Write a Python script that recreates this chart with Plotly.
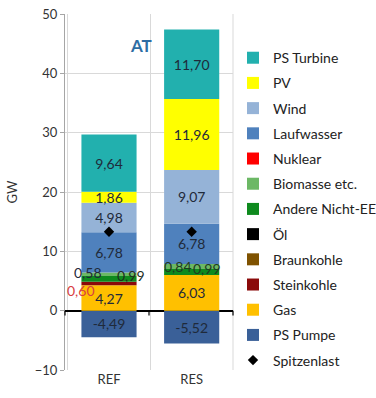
import plotly.graph_objects as go

categories = ["REF", "RES"]

# stack order bottom-up (positive), negative PS Pumpe separate
ps_pumpe = [-4.49, -5.52]
gas = [4.27, 6.03]
steinkohle = [0.60, 0.0]
braunkohle = [0.0, 0.0]
oel = [0.0, 0.0]
andere = [0.99, 0.99]
biomasse = [0.58, 0.84]
nuklear = [0.0, 0.0]
laufwasser = [6.78, 6.78]
wind = [4.98, 9.07]
pv = [1.86, 11.96]
ps_turbine = [9.64, 11.70]
spitzenlast = [13.3, 13.3]

FONT = "Lato"
TXT = "#1F2A3A"

series = [
    ("PS Pumpe", ps_pumpe, "#3A6098", True),
    ("Gas", gas, "#FFC000", True),
    ("Steinkohle", steinkohle, "#8B0A0A", False),
    ("Braunkohle", braunkohle, "#7F5200", False),
    ("Öl", oel, "#000000", False),
    ("Andere Nicht-EE", andere, "#0E8A1E", False),
    ("Biomasse etc.", biomasse, "#6CB865", False),
    ("Nuklear", nuklear, "#FF0000", False),
    ("Laufwasser", laufwasser, "#4F81BD", True),
    ("Wind", wind, "#95B3D7", True),
    ("PV", pv, "#FFFF00", True),
    ("PS Turbine", ps_turbine, "#22B0AE", True),
]
legend_order = ["PS Turbine", "PV", "Wind", "Laufwasser", "Nuklear", "Biomasse etc.",
                "Andere Nicht-EE", "Öl", "Braunkohle", "Steinkohle", "Gas", "PS Pumpe",
                "Spitzenlast"]

fig = go.Figure()
for name, vals, color, show_text in series:
    txt = [("%.2f" % v).replace(".", ",") if (show_text and v != 0) else "" for v in vals]
    fig.add_trace(go.Bar(
        x=categories, y=vals, name=name, marker=dict(color=color, line=dict(width=0)),
        text=txt, textposition="inside", insidetextanchor="middle", textangle=0,
        textfont=dict(family=FONT, size=14, color=TXT),
        legendgroup=name, legendrank=legend_order.index(name) + 1,
        hoverinfo="skip",
    ))

fig.add_trace(go.Scatter(
    x=categories, y=spitzenlast, name="Spitzenlast", mode="markers",
    marker=dict(symbol="diamond", color="#000000", size=8),
    legendgroup="Spitzenlast", legendrank=len(legend_order),
    hoverinfo="skip",
))

# small-segment labels (annotations)
def seg_center(idx, cat_i):
    base = sum(s[1][cat_i] for s in series[1:idx])
    return base + series[idx][1][cat_i] / 2

names = [s[0] for s in series]
small_labels = [
    (0, "Steinkohle", -28, -7, "#D9403F"),
    (0, "Biomasse etc.", -21, 2, TXT),
    (0, "Andere Nicht-EE", 22, 3, "#1F2F1F"),
    (1, "Biomasse etc.", -14, 0, "#1F3A1F"),
    (1, "Andere Nicht-EE", 15, 3, "#1F3A1F"),
]
for ci, nm, xs, ys, col in small_labels:
    idx = names.index(nm)
    v = series[idx][1][ci]
    fig.add_annotation(
        x=categories[ci], y=seg_center(idx, ci), xshift=xs, yshift=ys,
        text=("%.2f" % v).replace(".", ","), showarrow=False,
        font=dict(family=FONT, size=14, color=col),
    )

fig.add_annotation(
    xref="paper", yref="paper", x=0.45, y=0.947, text="<b>AT</b>", showarrow=False,
    font=dict(family=FONT, size=17, color="#2E6DA4"),
)

# right border of plot area (light, like gridlines)
fig.add_shape(type="line", xref="paper", yref="paper", x0=1, x1=1, y0=0, y1=1,
              line=dict(color="#D9D9D9", width=1), layer="below")

# small tick marks below the zero line at category boundaries
for xp in [0, 0.5, 1]:
    fig.add_shape(type="line", xref="paper", yref="y", x0=xp, x1=xp, y0=0, y1=-0.8,
                  line=dict(color="#000000", width=1.2))

fig.update_layout(
    width=376, height=398,
    margin=dict(l=65, r=143, t=14, b=28, autoexpand=False),
    barmode="relative", bargap=0.333,
    plot_bgcolor="white", paper_bgcolor="white",
    font=dict(family=FONT, size=13, color="#333333"),
    showlegend=True,
    legend=dict(
        x=1.0, xanchor="left", y=0.921, yanchor="top",
        traceorder="grouped", tracegroupgap=4,
        font=dict(family=FONT, size=14, color="#222222"),
        itemwidth=30, bgcolor="rgba(0,0,0,0)",
    ),
    uniformtext=dict(minsize=14, mode="show"),
    xaxis=dict(
        type="category", tickson="boundaries", showgrid=True, gridcolor="#D9D9D9",
        gridwidth=1, ticks="", showline=False, mirror=False,
        tickfont=dict(family=FONT, size=13, color="#333333"),
    ),
    yaxis=dict(
        range=[-10, 50], dtick=10, showgrid=True, gridcolor="#D9D9D9", gridwidth=1,
        zeroline=True, zerolinecolor="#000000", zerolinewidth=1.5,
        showline=True, linecolor="#A6A6A6", linewidth=1.2,
        ticks="outside", ticklen=4, tickcolor="#A6A6A6",
        tickfont=dict(family=FONT, size=13, color="#333333"),
        title=dict(text="GW", font=dict(family=FONT, size=13, color="#333333"), standoff=14),
    ),
)

fig.write_html("out.html")
